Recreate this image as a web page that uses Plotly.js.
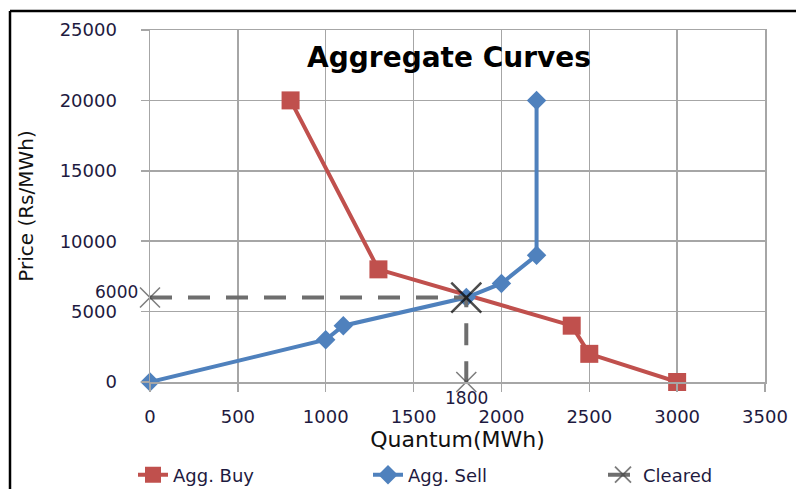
<!DOCTYPE html>
<html>
<head>
<meta charset="utf-8">
<script src="https://cdn.plot.ly/plotly-3.0.1.min.js"></script>
<style>html,body{margin:0;padding:0;background:#fff;}#chart{width:796px;height:489px;}</style>
</head>
<body>
<div id="chart"></div>
<script>
// Data
const buyQuantity = [800, 1300, 2400, 2500, 3000];
const buyPrice = [20000, 8000, 4000, 2000, 0];
const sellQuantity = [0, 1000, 1100, 1800, 2000, 2200, 2200];
const sellPrice = [0, 3000, 4000, 6000, 7000, 9000, 20000];
const clearedQuantity = [0, 1800, 1800];
const clearedPrice = [6000, 6000, 0];
const clearedPriceLabel = "6000";
const clearedQuantityLabel = "1800";
const xTicks = [0, 500, 1000, 1500, 2000, 2500, 3000, 3500];
const yTicks = [0, 5000, 10000, 15000, 20000, 25000];

const tickFont = {family: "DejaVu Sans", size: 18, color: "#1e1a40"};
const labelFont = {family: "DejaVu Sans", size: 17, color: "#1e1a40"};

const traces = [
  {
    name: "Agg. Buy", x: buyQuantity, y: buyPrice, type: "scatter", mode: "lines+markers",
    line: {color: "#C0504D", width: 4},
    marker: {symbol: "square", size: 18, color: "#C0504D"},
    cliponaxis: false
  },
  {
    name: "Agg. Sell", x: sellQuantity, y: sellPrice, type: "scatter", mode: "lines+markers",
    line: {color: "#4F81BD", width: 4},
    marker: {symbol: "diamond", size: 15, color: "#4F81BD"},
    cliponaxis: false
  },
  {
    name: "Cleared", x: clearedQuantity, y: clearedPrice, type: "scatter", mode: "lines+markers",
    line: {color: "#6e6e6e", width: 4, dash: "22px,16px"},
    marker: {symbol: "x-thin-open", size: [20, 30, 20],
      color: ["#444", "#000", "#444"],
      line: {width: [1.5, 2.5, 1.5], color: ["#444", "#000", "#444"]}},
    cliponaxis: false
  }
];

const L = 150, R = 31, T = 30, B = 107;
const W = 796, H = 489;
const pw = W - L - R, ph = H - T - B;
const px = v => (v - L) / pw;
const py = v => (H - B - v) / ph;

const layout = {
  width: W, height: H,
  margin: {l: L, r: R, t: T, b: B, autoexpand: false},
  paper_bgcolor: "#fff", plot_bgcolor: "#fff",
  title: {text: "<b>Aggregate Curves</b>", font: {family: "DejaVu Sans", size: 28, color: "#000"},
    x: px(449), xref: "paper", xanchor: "center", y: 1 - 57 / H, yref: "container", yanchor: "middle"},
  xaxis: {
    range: [0, 3500], tickvals: xTicks, ticktext: xTicks.map(String),
    showgrid: true, gridcolor: "#a6a6a6", gridwidth: 1.5,
    showline: true, linecolor: "#a6a6a6", linewidth: 1.5, mirror: true,
    ticks: "outside", ticklen: 8, tickcolor: "#a6a6a6", tickwidth: 1.5,
    ticklabelstandoff: 10, zeroline: false,
    tickfont: tickFont,
    title: {text: "Quantum(MWh)", font: {family: "DejaVu Sans", size: 22, color: "#111"}, standoff: 3}
  },
  yaxis: {
    range: [0, 25000], tickvals: yTicks, ticktext: yTicks.map(String),
    showgrid: true, gridcolor: "#a6a6a6", gridwidth: 1.5,
    showline: true, linecolor: "#a6a6a6", linewidth: 1.5, mirror: true,
    ticks: "outside", ticklen: 8, tickcolor: "#a6a6a6", tickwidth: 1.5,
    ticklabelstandoff: 20, zeroline: false,
    tickfont: tickFont,
    title: {text: "Price (Rs/MWh)", font: {family: "DejaVu Sans", size: 20, color: "#111"}, standoff: 20}
  },
  showlegend: true,
  legend: {orientation: "h", x: px(133), xanchor: "left", y: py(475), yanchor: "middle",
    font: {family: "DejaVu Sans", size: 18, color: "#1e1a40"},
    entrywidth: 190, entrywidthmode: "pixels", bgcolor: "rgba(0,0,0,0)"},
  annotations: [
    {x: clearedQuantity[0], y: clearedPrice[0], xref: "x", yref: "y", text: clearedPriceLabel,
      showarrow: false, xanchor: "right", yanchor: "bottom", xshift: -10, yshift: -6, font: labelFont},
    {x: clearedQuantity[2], y: clearedPrice[2], xref: "x", yref: "y", text: clearedQuantityLabel,
      showarrow: false, xanchor: "center", yanchor: "middle", yshift: -16, font: labelFont}
  ],
  shapes: [
    {type: "line", xref: "paper", yref: "paper", x0: px(10), x1: px(800), y0: py(11), y1: py(11),
      line: {color: "#000", width: 2.5}},
    {type: "line", xref: "paper", yref: "paper", x0: px(10), x1: px(10), y0: py(11), y1: py(495),
      line: {color: "#000", width: 2.5}}
  ]
};

Plotly.newPlot("chart", traces, layout, {displayModeBar: false, staticPlot: true});
</script>
</body>
</html>
